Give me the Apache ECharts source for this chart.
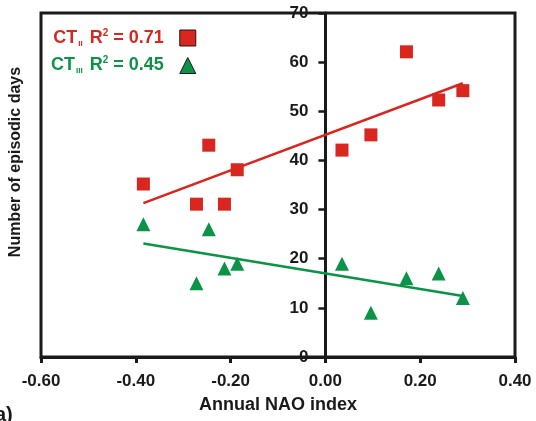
<!DOCTYPE html>
<html>
<head>
<meta charset="utf-8">
<script src="https://cdn.jsdelivr.net/npm/echarts@6/dist/echarts.min.js"></script>
<style>
  html, body { margin: 0; padding: 0; background: #fff; }
  #chart { width: 536px; height: 421px; }
</style>
</head>
<body>
<div id="chart"></div>
<script>
// values
var naoIndex = [-0.384, -0.272, -0.246, -0.213, -0.186, 0.035, 0.096, 0.171, 0.239, 0.29];
var ctII = [35.2, 31.1, 43.1, 31.1, 38.1, 42.1, 45.2, 62.1, 52.3, 54.2];
var ctIII = [27, 15, 26, 18, 19, 19, 9, 16, 17, 12];
var trendX = [-0.384, 0.29];
var ctIITrend = [31.3, 55.7];
var ctIIITrend = [23.1, 12.4];
var xTicks = { min: -0.6, max: 0.4, step: 0.2 };
var yTicks = { min: 0, max: 70, step: 10 };

var red = '#d9261e';
var green = '#0b9447';
var ink = '#1a1a1a';
var font = 'Liberation Sans, Arial, sans-serif';

var gridLeft = 41, gridRight = 21;
var plotWidth = 536 - gridLeft - gridRight;
// y axis sits on NAO = 0, inside the box
var yAxisShift = plotWidth * (0 - xTicks.min) / (xTicks.max - xTicks.min);

function pairs(xs, ys) {
    return xs.map(function (x, i) { return [x, ys[i]]; });
}

function legendRich(color) {
    return {
        b: { color: color, fontSize: 18, fontWeight: 'bold', fontFamily: font },
        e: { color: color, fontSize: 18, fontWeight: 'bold', fontFamily: font, padding: [0, 11, 0, 0] },
        s: { color: color, fontSize: 8, fontWeight: 'bold', fontFamily: font, padding: [11, 2, 0, 1] },
        p: { color: color, fontSize: 10, fontWeight: 'bold', fontFamily: font, padding: [0, 0, 10, 0] }
    };
}

var chart = echarts.init(document.getElementById('chart'));
chart.setOption({
    animation: false,
    grid: {
        left: gridLeft, right: gridRight, top: 13, bottom: 64,
        show: true, borderColor: ink, borderWidth: 3
    },
    legend: {
        orient: 'vertical',
        left: 46, top: 23,
        align: 'right',
        itemGap: 8,
        itemWidth: 16, itemHeight: 16,
        selectedMode: false,
        formatter: function (name) {
            return name === 'CTII'
                ? '{b|CT}{s|II}{b| R}{p|2}{e| = 0.71}'
                : '{b|CT}{s|III}{b| R}{p|2}{e| = 0.45}';
        },
        data: [
            { name: 'CTII', icon: 'rect', itemStyle: { color: red, borderColor: ink, borderWidth: 1 },
              textStyle: { rich: legendRich(red) } },
            { name: 'CTIII', icon: 'triangle', itemStyle: { color: green, borderColor: ink, borderWidth: 1 },
              textStyle: { rich: legendRich(green) } }
        ]
    },
    xAxis: {
        type: 'value',
        min: xTicks.min, max: xTicks.max, interval: xTicks.step,
        name: 'Annual NAO index',
        nameLocation: 'middle', nameGap: 39,
        nameTextStyle: { color: ink, fontSize: 18, fontWeight: 'bold', fontFamily: font },
        axisLine: { onZero: false, lineStyle: { color: ink, width: 3 } },
        axisTick: { length: 6, lineStyle: { color: ink, width: 3 } },
        axisLabel: {
            margin: 16, color: ink, fontSize: 17, fontWeight: 'bold', fontFamily: font,
            formatter: function (v) { return v.toFixed(2); }
        },
        splitLine: { show: false }
    },
    yAxis: {
        type: 'value',
        min: yTicks.min, max: yTicks.max, interval: yTicks.step,
        offset: -yAxisShift,
        axisLine: { show: true, onZero: false, lineStyle: { color: ink, width: 3 } },
        axisTick: { show: true, length: 7, lineStyle: { color: ink, width: 2.5 } },
        axisLabel: { margin: 17, color: ink, fontSize: 17, fontWeight: 'bold', fontFamily: font },
        splitLine: { show: false }
    },
    graphic: [
        {
            type: 'text', x: 16, y: 162, rotation: Math.PI / 2,
            style: {
                text: 'Number of episodic days', fill: ink,
                font: 'bold 16px ' + font, align: 'center', verticalAlign: 'middle'
            }
        },
        {
            type: 'text', x: -5, y: 405,
            style: { text: 'a)', fill: ink, font: 'bold 20px ' + font }
        }
    ],
    series: [
        {
            name: 'CTII', type: 'scatter', symbol: 'rect', symbolSize: 13,
            itemStyle: { color: red, opacity: 1 },
            data: pairs(naoIndex, ctII), z: 3
        },
        {
            name: 'CTIII', type: 'scatter', symbol: 'triangle', symbolSize: 14,
            itemStyle: { color: green, opacity: 1 },
            data: pairs(naoIndex, ctIII), z: 3
        },
        {
            name: 'CTII fit', type: 'line', showSymbol: false, silent: true,
            lineStyle: { color: red, width: 2.5 },
            data: pairs(trendX, ctIITrend), z: 2
        },
        {
            name: 'CTIII fit', type: 'line', showSymbol: false, silent: true,
            lineStyle: { color: green, width: 2.5 },
            data: pairs(trendX, ctIIITrend), z: 2
        }
    ]
});
</script>
</body>
</html>
